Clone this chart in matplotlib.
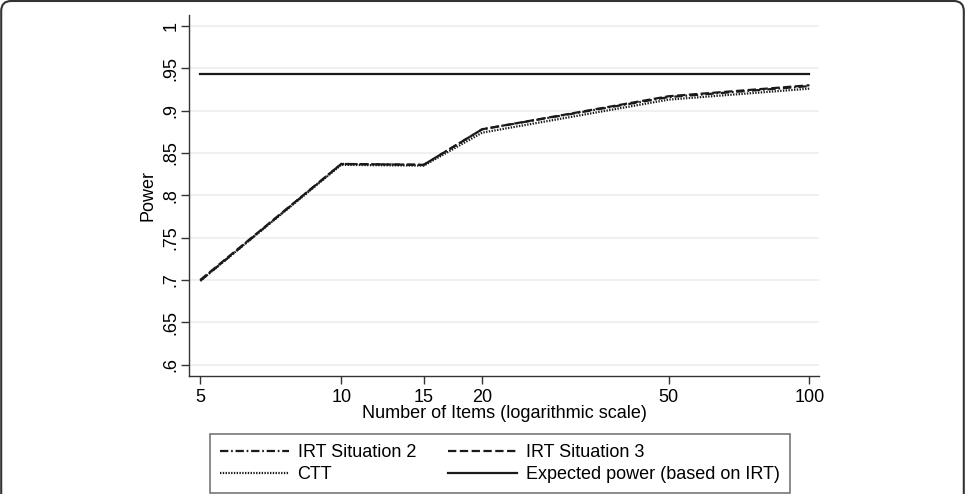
import numpy as np
import matplotlib
matplotlib.use("Agg")
import matplotlib.pyplot as plt
from matplotlib.patches import FancyBboxPatch

plt.rcParams['font.family'] = ['Liberation Sans', 'DejaVu Sans']
plt.rcParams['lines.scale_dashes'] = False

# values
items = [5, 10, 15, 20, 50, 100]
irt_sit2 = [0.699, 0.837, 0.836, 0.878, 0.916, 0.929]
irt_sit3 = [0.700, 0.837, 0.836, 0.878, 0.917, 0.930]
ctt = [0.699, 0.836, 0.835, 0.874, 0.913, 0.926]
expected = [0.943, 0.943]
expected_x = [5, 100]

y_ticks = [0.6, 0.65, 0.7, 0.75, 0.8, 0.85, 0.9, 0.95, 1.0]
y_labels = [".6", ".65", ".7", ".75", ".8", ".85", ".9", ".95", "1"]
x_labels = ["5", "10", "15", "20", "50", "100"]

fig = plt.figure(figsize=(9.65, 4.94), dpi=100)
ax = fig.add_axes([189 / 965, 1 - 376 / 494, 630 / 965, 361 / 494])

line_col = '#1a1a1a'
l2, = ax.plot(items, irt_sit2, color=line_col, lw=1.6, dashes=(6, 2, 1.2, 2), label="IRT Situation 2")
l3, = ax.plot(items, irt_sit3, color=line_col, lw=1.6, dashes=(6, 2.5), label="IRT Situation 3")
lc, = ax.plot(items, ctt, color=line_col, lw=1.6, dashes=(1, 1), label="CTT")
le, = ax.plot(expected_x, expected, color=line_col, lw=1.6, label="Expected power (based on IRT)")

ax.set_xscale('log')
ax.set_xlim(4.73, 104.8)
ax.set_ylim(0.5865, 1.013)
ax.set_xticks(items)
ax.set_xticklabels(x_labels)
ax.xaxis.set_minor_locator(matplotlib.ticker.NullLocator())
ax.set_yticks(y_ticks)
ax.set_yticklabels(y_labels, rotation=90, va='center')

ax.grid(axis='y', color='#ededed', lw=1.2)
ax.set_axisbelow(True)
for s in ['top', 'right']:
    ax.spines[s].set_visible(False)
for s in ['left', 'bottom']:
    ax.spines[s].set_color('#333333')
    ax.spines[s].set_linewidth(1.0)
ax.tick_params(axis='both', labelsize=13, length=6, width=1.0, color='#333333', pad=3)
ax.tick_params(axis='y', pad=1)

ax.set_xlabel("Number of Items (logarithmic scale)", fontsize=13, labelpad=0)
ax.set_ylabel("Power", fontsize=13, labelpad=4)

leg = ax.legend([l2, lc, l3, le],
                ["IRT Situation 2", "CTT", "IRT Situation 3", "Expected power (based on IRT)"],
                ncol=2, loc='upper left', bbox_to_anchor=(210 / 965, 1 - 434 / 494),
                bbox_transform=fig.transFigure, borderaxespad=0, fontsize=13,
                handlelength=3.8, handletextpad=0.5, columnspacing=1.8,
                borderpad=0.55, labelspacing=0.3, fancybox=False, framealpha=1)
leg.get_frame().set_edgecolor('#777777')
leg.get_frame().set_linewidth(1.2)

# outer rounded frame
frame = FancyBboxPatch((0.012, -0.3), 9.626, 5.23,
                       boxstyle='round,pad=0,rounding_size=0.1',
                       transform=fig.dpi_scale_trans, fill=False,
                       edgecolor='#333333', lw=1.5)
fig.patches.append(frame)

fig.savefig("out.png", dpi=100)
